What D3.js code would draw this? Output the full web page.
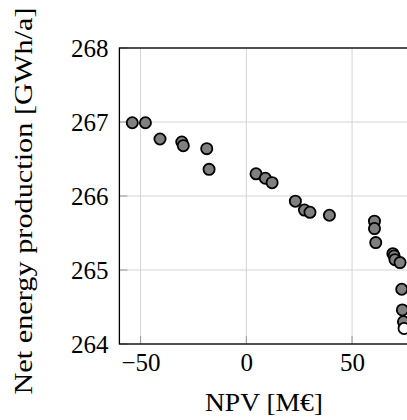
<!DOCTYPE html>
<html>
<head>
<meta charset="utf-8">
<script src="https://cdn.jsdelivr.net/npm/d3@7"></script>
<style>
  html, body { margin: 0; padding: 0; background: #fff; overflow: hidden; }
  svg { display: block; }
  svg text { font-family: 'Liberation Serif', 'DejaVu Serif', serif !important; fill: #000; }
</style>
</head>
<body>
<div id="chart"></div>
<script>
// NPV [M€]
const npv = [-53.9, -47.7, -40.8, -30.5, -29.8, -18.7, -17.6, 4.6, 9.0, 12.2,
             23.2, 27.5, 30.1, 39.3, 60.6, 60.6, 61.2, 69.3, 69.9, 70.3,
             72.7, 73.5, 73.8, 74.3];
// Net energy production [GWh/a]
const energy = [266.99, 266.99, 266.77, 266.73, 266.68, 266.64, 266.36, 266.30, 266.24, 266.18,
                265.93, 265.81, 265.78, 265.74, 265.66, 265.56, 265.37, 265.22, 265.19, 265.14,
                265.10, 264.74, 264.46, 264.30];
// highlighted (white) solution
const selNpv = [74.6];
const selEnergy = [264.21];

const xTicks = [-50, 0, 50];
const yTicks = [264, 265, 266, 267, 268];
const xDomain = [-60, 80];
const yDomain = [264, 268];

const W = 407, H = 420;
const m = { left: 119.4, top: 48, right: 415.5, bottom: 344 };
const FONT = "'Liberation Serif', 'DejaVu Serif', serif";

const svg = d3.select("#chart").append("svg").attr("width", W).attr("height", H)
  .style("font-family", FONT);

const x = d3.scaleLinear().domain(xDomain).range([m.left, m.right]);
const y = d3.scaleLinear().domain(yDomain).range([m.bottom, m.top]);

// grid
const g = svg.append("g");
g.selectAll(".gx").data(xTicks).join("line")
  .attr("x1", d => x(d)).attr("x2", d => x(d))
  .attr("y1", m.top).attr("y2", m.bottom)
  .attr("stroke", "#d4d4d4").attr("stroke-width", 1);
g.selectAll(".gy").data(yTicks).join("line")
  .attr("x1", m.left).attr("x2", m.right)
  .attr("y1", d => y(d)).attr("y2", d => y(d))
  .attr("stroke", "#d4d4d4").attr("stroke-width", 1);

// inner ticks
g.selectAll(".tx").data(xTicks).join("line")
  .attr("x1", d => x(d)).attr("x2", d => x(d))
  .attr("y1", m.bottom).attr("y2", m.bottom - 8)
  .attr("stroke", "#999").attr("stroke-width", 1);
g.selectAll(".ty").data(yTicks).join("line")
  .attr("x1", m.left).attr("x2", m.left + 8)
  .attr("y1", d => y(d)).attr("y2", d => y(d))
  .attr("stroke", "#999").attr("stroke-width", 1);

// frame
svg.append("rect")
  .attr("x", m.left).attr("y", m.top)
  .attr("width", m.right - m.left).attr("height", m.bottom - m.top)
  .attr("fill", "none").attr("stroke", "#000").attr("stroke-width", 1.3);

// axes labels via d3 axis (no domain/ticks lines)
const xAxis = d3.axisBottom(x).tickValues(xTicks).tickSize(0).tickPadding(0).tickFormat(d3.format("d"));
const xa = svg.append("g").attr("transform", `translate(0,${m.bottom})`).call(xAxis)
  .attr("font-family", null).attr("font-size", null);
xa.select(".domain").remove();
xa.selectAll("text").style("font-family", FONT).style("font-size", "25px")
  .attr("dy", null).attr("y", 27).attr("fill", "#000");

const yAxis = d3.axisLeft(y).tickValues(yTicks).tickSize(0).tickPadding(0).tickFormat(d3.format("d"));
const ya = svg.append("g").attr("transform", `translate(${m.left - 11},0)`).call(yAxis)
  .attr("font-family", null).attr("font-size", null);
ya.select(".domain").remove();
ya.selectAll("text").style("font-family", FONT).style("font-size", "25px")
  .attr("dy", "0.33em").attr("x", 0).attr("fill", "#000");

// points
svg.append("g").selectAll("circle").data(npv.map((v, i) => [v, energy[i]])).join("circle")
  .attr("cx", d => x(d[0])).attr("cy", d => y(d[1])).attr("r", 5.6)
  .attr("fill", "#808080").attr("stroke", "#000").attr("stroke-width", 1.8);
svg.append("g").selectAll("circle").data(selNpv.map((v, i) => [v, selEnergy[i]])).join("circle")
  .attr("cx", d => x(d[0])).attr("cy", d => y(d[1])).attr("r", 5.6)
  .attr("fill", "#fff").attr("stroke", "#000").attr("stroke-width", 1.8);

// axis titles
svg.append("text")
  .attr("x", 264).attr("y", 411)
  .attr("text-anchor", "middle").style("font-size", "25px").style("font-family", FONT)
  .attr("textLength", 118).attr("lengthAdjust", "spacingAndGlyphs")
  .text("NPV [M€]");

svg.append("text")
  .attr("transform", "translate(32,201) rotate(-90)")
  .attr("text-anchor", "middle").style("font-size", "25px").style("font-family", FONT)
  .attr("textLength", 387).attr("lengthAdjust", "spacingAndGlyphs")
  .text("Net energy production [GWh/a]");
</script>
</body>
</html>
